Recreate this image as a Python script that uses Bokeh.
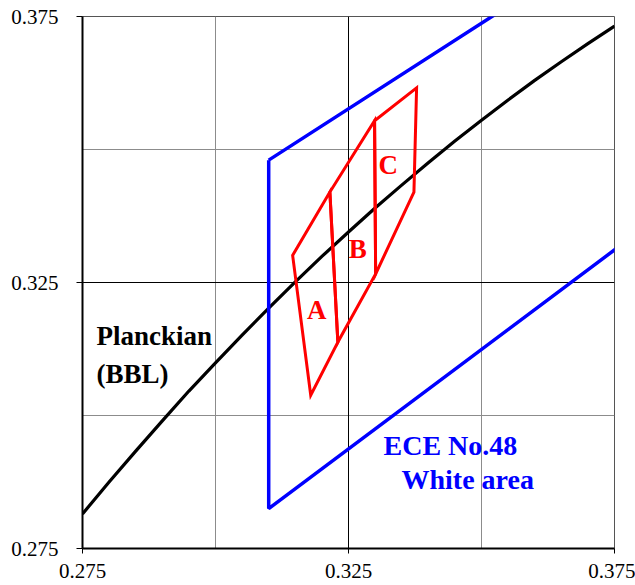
from bokeh.plotting import figure
from bokeh.models import FixedTicker, Grid, Range1d, Label
from bokeh.embed import file_html
from bokeh.resources import INLINE

# ---- data (CIE 1931 x, y) ----
bbl_x = [0.275, 0.280, 0.285, 0.290, 0.295, 0.300, 0.305, 0.310, 0.315, 0.320, 0.325,
         0.330, 0.335, 0.340, 0.345, 0.350, 0.355, 0.360, 0.365, 0.370, 0.375]
bbl_y = [0.2815, 0.2875, 0.2933, 0.2990, 0.3046, 0.3099, 0.3151, 0.3202, 0.3251, 0.3299, 0.3345,
         0.3390, 0.3433, 0.3475, 0.3516, 0.3555, 0.3593, 0.3630, 0.3665, 0.3699, 0.3732]

ece_x = [0.310, 0.453, 0.500, 0.500, 0.443, 0.310, 0.310]
ece_y = [0.348, 0.440, 0.440, 0.382, 0.382, 0.2825, 0.348]

bin_a_x = [0.3145, 0.3179, 0.3230, 0.3215]
bin_a_y = [0.3301, 0.3038, 0.3138, 0.3420]
bin_b_x = [0.3215, 0.3230, 0.3301, 0.3299]
bin_b_y = [0.3420, 0.3138, 0.3266, 0.3554]
bin_c_x = [0.3299, 0.3301, 0.3373, 0.3378]
bin_c_y = [0.3554, 0.3266, 0.3420, 0.3616]

axis_ticks = [0.275, 0.325, 0.375]
grid_light = [0.300, 0.350]
grid_dark = [0.325]

FONT = "Liberation Serif"

p = figure(width=635, height=585,
           x_range=Range1d(0.275, 0.375), y_range=Range1d(0.275, 0.375),
           output_backend="svg", toolbar_location=None,
           min_border_left=82, min_border_right=21,
           min_border_top=16, min_border_bottom=37)
p.background_fill_color = "white"
p.border_fill_color = "white"
p.outline_line_color = "#555555"
p.outline_line_width = 1

for ax in (p.xaxis[0], p.yaxis[0]):
    ax.ticker = FixedTicker(ticks=axis_ticks)
    ax.axis_line_color = "black"
    ax.axis_line_width = 2
    ax.major_tick_line_color = "black"
    ax.major_tick_line_width = 1
    ax.major_tick_in = 0
    ax.minor_tick_in = 0
    ax.minor_tick_out = 0
    ax.major_label_text_font = FONT
    ax.major_label_text_font_size = "21px"
    ax.major_label_text_color = "black"
p.xaxis.major_tick_out = 5
p.xaxis.major_label_standoff = 10
p.yaxis.major_tick_out = 6
p.yaxis.major_label_standoff = 18

p.xgrid.ticker = FixedTicker(ticks=grid_light)
p.ygrid.ticker = FixedTicker(ticks=grid_light)
p.grid.grid_line_color = "#8c8c8c"
p.grid.grid_line_width = 1
p.add_layout(Grid(dimension=0, ticker=FixedTicker(ticks=grid_dark),
                  grid_line_color="black", grid_line_width=1))
p.add_layout(Grid(dimension=1, ticker=FixedTicker(ticks=grid_dark),
                  grid_line_color="black", grid_line_width=1))

# Planckian locus
p.line(bbl_x, bbl_y, line_color="black", line_width=3.2, line_join="round")
# ECE R48 white area
p.line(ece_x, ece_y, line_color="#0000ff", line_width=3.5)
# bins
for bx, by in ((bin_a_x, bin_a_y), (bin_b_x, bin_b_y), (bin_c_x, bin_c_y)):
    p.patch(bx, by, fill_color=None, line_color="#ff0000", line_width=3, line_join="miter")

def lab(x, y, t, color, size, align="left"):
    p.add_layout(Label(x=x, y=y, y_offset=10, text=t, text_font=FONT, text_font_style="bold",
                       text_font_size=size, text_color=color,
                       text_align=align, text_baseline="alphabetic"))

lab(0.27763, 0.31303, "Planckian", "black", "27px")
lab(0.27763, 0.30596, "(BBL)", "black", "27px")
lab(0.33158, 0.29248, "ECE No.48", "#0000ff", "28px")
lab(0.33496, 0.28609, "White area", "#0000ff", "28px")
lab(0.31902, 0.31786, "A", "#ff0000", "27px", "center")
lab(0.32673, 0.32945, "B", "#ff0000", "27px", "center")
lab(0.33248, 0.34530, "C", "#ff0000", "27px", "center")

open("out.html", "w").write(file_html(p, INLINE))
